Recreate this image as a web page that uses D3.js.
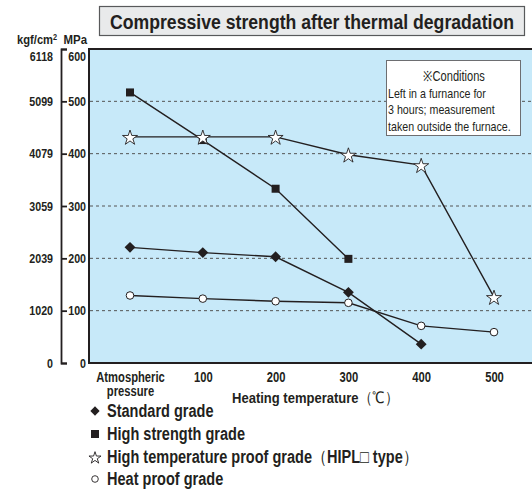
<!DOCTYPE html>
<html>
<head>
<meta charset="utf-8">
<script src="https://cdn.jsdelivr.net/npm/d3@7"></script>
<style>
  body { margin: 0; background: #fff; }
  svg { display: block; }
  text { font-family: "Liberation Sans", Arial, sans-serif; fill: #231f20; }
</style>
</head>
<body>
<div id="chart"></div>
<script>
// categories along the bottom
var categories = ["Atmospheric", "100", "200", "300", "400", "500"];

// MPa values
var standardGrade = [221, 211, 203, 135, 36, null];
var highStrength  = [517, 426, 333, 199, null, null];
var highTemp      = [432, 432, 432, 398, 378, 126];
var heatProof     = [129, 123, 118, 115, 71, 59];

// tick labels
var mpaTicks = [0, 100, 200, 300, 400, 500, 600];
var kgfLabels = ["0", "1020", "2039", "3059", "4079", "5099", "6118"];

var legendItems = ["Standard grade", "High strength grade", "High temperature proof grade", "Heat proof grade"];

var width = 532, height = 489;
var plotLeft = 89, plotTop = 49, plotBottom = 363;
var FONT = "'Liberation Sans', Arial, sans-serif";
var SQUEEZE = 0.82;

var svg = d3.select("#chart").append("svg")
  .attr("width", width)
  .attr("height", height);

// squeeze texts horizontally to look like a condensed face
function condense(sel, f) {
  sel.each(function() {
    var len = this.getComputedTextLength();
    d3.select(this).attr("textLength", len * (f || SQUEEZE)).attr("lengthAdjust", "spacingAndGlyphs");
  });
}

// scales
var x = d3.scalePoint().domain(categories).range([130, 494]);
var y = d3.scaleLinear().domain([0, 600]).range([plotBottom, plotTop]);

// title box
svg.append("rect")
  .attr("x", 99.5).attr("y", 6.5)
  .attr("width", 425).attr("height", 29)
  .attr("fill", "#e9eaeb").attr("stroke", "#58595b").attr("stroke-width", 1.2);
svg.append("text")
  .attr("x", 312).attr("y", 28.5)
  .attr("text-anchor", "middle")
  .attr("textLength", 404).attr("lengthAdjust", "spacingAndGlyphs")
  .style("font-size", "20px").style("font-weight", "bold")
  .text("Compressive strength after thermal degradation");

// unit headers
var kgfHead = svg.append("text").attr("x", 17).attr("y", 44)
  .style("font-size", "13px").style("font-weight", "bold")
  .html('kgf/cm<tspan dy="-4.5" style="font-size:8.5px">2</tspan>');
condense(kgfHead, 0.86);
var mpaHead = svg.append("text").attr("x", 87).attr("y", 44)
  .attr("text-anchor", "end")
  .style("font-size", "13px").style("font-weight", "bold")
  .text("MPa");
condense(mpaHead, 0.88);

// plot background
svg.append("rect")
  .attr("x", plotLeft).attr("y", plotTop)
  .attr("width", width - plotLeft + 5).attr("height", plotBottom - plotTop)
  .attr("fill", "#c7e9f9")
  .attr("stroke", "#231f20").attr("stroke-width", 2);

// dashed gridlines
svg.append("g").selectAll("line")
  .data(mpaTicks.filter(function(d) { return d > 0 && d < 600; }))
  .enter().append("line")
    .attr("x1", plotLeft + 1).attr("x2", width)
    .attr("y1", function(d) { return y(d); })
    .attr("y2", function(d) { return y(d); })
    .attr("stroke", "#555")
    .attr("stroke-width", 1)
    .attr("stroke-dasharray", "3,3");

function styleTicks(g) {
  g.selectAll("text")
    .style("font-size", "13px").style("font-weight", "bold")
    .style("font-family", FONT)
    .attr("fill", "#231f20")
    .filter(function(d) { return d === 600; })
    .attr("dy", "0.9em");
  g.selectAll("text").call(condense);
}

// MPa axis
var mpaAxis = d3.axisLeft(y).tickValues(mpaTicks).tickSize(0).tickPadding(3);
var gm = svg.append("g")
  .attr("transform", "translate(" + plotLeft + ",0)")
  .call(mpaAxis);
gm.select(".domain").remove();
styleTicks(gm);

// kgf/cm2 axis (bracket)
var kgfAxis = d3.axisLeft(y).tickValues(mpaTicks)
  .tickSize(-6).tickPadding(8)
  .tickFormat(function(d, i) { return kgfLabels[i]; });
var gk = svg.append("g")
  .attr("transform", "translate(61,0)")
  .call(kgfAxis);
gk.selectAll("path, line").attr("stroke", "#231f20").attr("stroke-width", 1.8);
styleTicks(gk);

// x axis labels
var xAxis = d3.axisBottom(x).tickSize(0).tickPadding(9);
var gx = svg.append("g")
  .attr("transform", "translate(0," + plotBottom + ")")
  .call(xAxis);
gx.select(".domain").remove();
gx.selectAll("text")
  .style("font-size", "14px").style("font-weight", "bold")
  .style("font-family", FONT)
  .attr("fill", "#231f20");
gx.selectAll(".tick").filter(function(d) { return d === "Atmospheric"; })
  .append("text")
    .attr("y", 33).attr("text-anchor", "middle")
    .style("font-size", "14px").style("font-weight", "bold")
    .attr("fill", "#231f20")
    .text("pressure");
gx.selectAll("text").call(condense, 0.8);

var xTitle = svg.append("text")
  .attr("x", 232).attr("y", 403)
  .style("font-size", "15.5px").style("font-weight", "bold");
xTitle.append("tspan").text("Heating temperature");
xTitle.append("tspan").style("font-weight", "normal").text("（℃）");
condense(xTitle, 0.84);

// lines
var line = d3.line()
  .defined(function(d) { return d != null; })
  .x(function(d, i) { return x(categories[i]); })
  .y(function(d) { return y(d); });

var series = [standardGrade, highStrength, highTemp, heatProof];
series.forEach(function(s) {
  svg.append("path")
    .attr("d", line(s))
    .attr("fill", "none")
    .attr("stroke", "#231f20")
    .attr("stroke-width", 1.4);
});

function points(s) {
  return s.map(function(v, i) { return { cat: categories[i], v: v }; })
          .filter(function(d) { return d.v != null; });
}

// heat proof: open circles
svg.append("g").selectAll("circle")
  .data(points(heatProof)).enter().append("circle")
    .attr("cx", function(d) { return x(d.cat); })
    .attr("cy", function(d) { return y(d.v); })
    .attr("r", 3.8)
    .attr("fill", "#fff").attr("stroke", "#231f20").attr("stroke-width", 1);

// standard: diamonds
svg.append("g").selectAll("path")
  .data(points(standardGrade)).enter().append("path")
    .attr("d", d3.symbol().type(d3.symbolDiamond2).size(75))
    .attr("transform", function(d) { return "translate(" + x(d.cat) + "," + y(d.v) + ")"; })
    .attr("fill", "#231f20");

// high strength: squares
svg.append("g").selectAll("rect")
  .data(points(highStrength)).enter().append("rect")
    .attr("x", function(d) { return x(d.cat) - 4; })
    .attr("y", function(d) { return y(d.v) - 4; })
    .attr("width", 8).attr("height", 8)
    .attr("fill", "#231f20");

// high temperature: open stars
svg.append("g").selectAll("path")
  .data(points(highTemp)).enter().append("path")
    .attr("d", d3.symbol().type(d3.symbolStar).size(70))
    .attr("transform", function(d) { return "translate(" + x(d.cat) + "," + (y(d.v) + 1) + ")"; })
    .attr("fill", "#fff").attr("stroke", "#231f20").attr("stroke-width", 0.9);

// conditions note
svg.append("rect")
  .attr("x", 386.5).attr("y", 60.5)
  .attr("width", 134).attr("height", 75)
  .attr("fill", "#fff").attr("stroke", "#6d6e71").attr("stroke-width", 1);
var note = ["※Conditions", "Left in a furnance for", "3 hours; measurement", "taken outside the furnace."];
svg.append("g").selectAll("text")
  .data(note).enter().append("text")
    .attr("x", function(d, i) { return i === 0 ? 454 : 388; })
    .attr("y", function(d, i) { return 81 + i * 16.5; })
    .attr("text-anchor", function(d, i) { return i === 0 ? "middle" : "start"; })
    .style("font-size", function(d, i) { return i === 0 ? "14px" : "13.5px"; })
    .text(function(d) { return d; })
    .call(condense, 0.79);

// legend
var legendY = [411, 434, 457, 479];
var lg = svg.append("g");
lg.append("path")
  .attr("d", d3.symbol().type(d3.symbolDiamond2).size(55))
  .attr("transform", "translate(95," + legendY[0] + ")")
  .attr("fill", "#231f20");
lg.append("rect")
  .attr("x", 91).attr("y", legendY[1] - 4).attr("width", 8).attr("height", 8)
  .attr("fill", "#231f20");
lg.append("path")
  .attr("d", d3.symbol().type(d3.symbolStar).size(45))
  .attr("transform", "translate(95," + (legendY[2] + 1) + ")")
  .attr("fill", "#fff").attr("stroke", "#231f20").attr("stroke-width", 0.9);
lg.append("circle")
  .attr("cx", 95).attr("cy", legendY[3]).attr("r", 3.3)
  .attr("fill", "#fff").attr("stroke", "#231f20").attr("stroke-width", 0.9);

legendItems.forEach(function(label, i) {
  var t = lg.append("text")
    .attr("x", 107).attr("y", legendY[i] + 6)
    .style("font-size", "17.5px").style("font-weight", "bold");
  t.append("tspan").text(label);
  if (i === 2) {
    t.append("tspan").style("font-weight", "normal").text("（");
    t.append("tspan").text("HIPL");
    t.append("tspan").style("font-weight", "normal").text("□");
    t.append("tspan").text(" type");
    t.append("tspan").style("font-weight", "normal").text("）");
  }
  condense(t, 0.83);
});
</script>
</body>
</html>
